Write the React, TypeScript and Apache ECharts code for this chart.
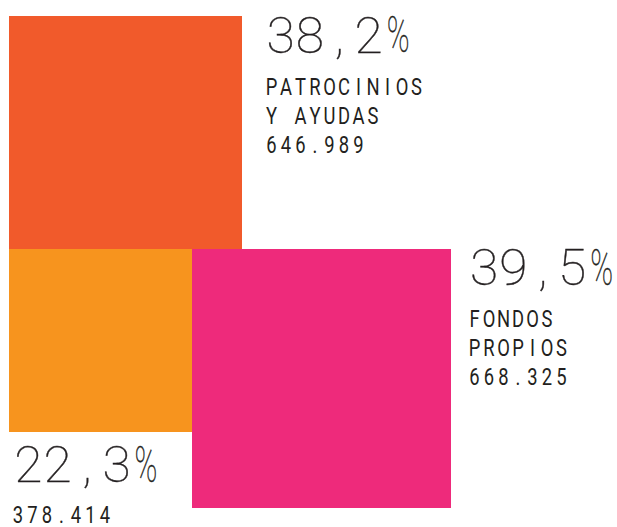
import { useEffect, useRef } from "react";
import * as echarts from "echarts";

// ---- data ----
const categoryLines: string[][] = [["PATROCINIOS", "Y AYUDAS"], ["FONDOS", "PROPIOS"], []];
const values: number[] = [646989, 668325, 378414];
const colors: string[] = ["#F15A2B", "#EE2A7B", "#F7941E"];

const total = values.reduce((a, b) => a + b, 0);
const fmtPct = (v: number) => ((v / total) * 100).toFixed(1).replace(".", ",") + "%";
const fmtNum = (v: number) => String(v).replace(/\B(?=(\d{3})+(?!\d))/g, ".");

// ---- layout (pixels) ----
const LAYOUT = [
  { x: 9, y: 16, size: 233, bigX: 280.5, bigY: 35.5, smallX: 271.5, lineY0: 87 },
  { x: 192, y: 249, size: 259, bigX: 484, bigY: 268.3, smallX: 474.5, lineY0: 319 },
  { x: 9, y: 249, size: 183, bigX: 28.3, bigY: 465.3, smallX: 18, lineY0: 515 },
];
const BIG_ADV = 29.4;
const SMALL_ADV = 14.5;
const LINE_DY = 29;
const TEXT_COLOR = "#231F20";

function charRow(str: string, x0: number, cy: number, adv: number, big: boolean) {
  const out: any[] = [];
  str.split("").forEach((ch, i) => {
    if (ch === " ") return;
    let sx = big ? 1.04 : 0.8;
    if (ch === "%") sx = big ? 0.62 : 0.55;
    out.push({
      type: "text",
      x: x0 + i * adv,
      y: cy,
      scaleX: sx,
      style: {
        text: ch,
        fontFamily: "Roboto",
        fontSize: big ? 49.5 : 23,
        fontWeight: big ? 100 : 400,
        fill: TEXT_COLOR,
        stroke: big ? TEXT_COLOR : undefined,
        lineWidth: big ? 0.4 : 0,
        align: "center",
        verticalAlign: "middle",
      },
    });
  });
  return out;
}

export default function App() {
  const ref = useRef<HTMLDivElement>(null);
  useEffect(() => {
    if (!ref.current) return;
    const chart = echarts.init(ref.current, null, { renderer: "svg" });
    chart.setOption({
      animation: false,
      backgroundColor: "#ffffff",
      series: [
        {
          type: "custom",
          coordinateSystem: "none",
          data: values.map((v, i) => ({ value: v, name: categoryLines[i].join(" ") })),
          renderItem: (params: any, api: any) => {
            const i = params.dataIndex;
            const L = LAYOUT[i];
            const v = api.value(0) as number;
            const children: any[] = [
              {
                type: "rect",
                shape: { x: L.x, y: L.y, width: L.size, height: L.size },
                style: { fill: colors[i] },
              },
            ];
            children.push(...charRow(fmtPct(v), L.bigX, L.bigY, BIG_ADV, true));
            const lines = [...categoryLines[i], fmtNum(v)];
            lines.forEach((ln, k) => {
              children.push(...charRow(ln, L.smallX, L.lineY0 + k * LINE_DY, SMALL_ADV, false));
            });
            return { type: "group", children };
          },
        },
      ],
    });
    return () => chart.dispose();
  }, []);
  return (
    <div
      ref={ref}
      style={{ position: "fixed", left: 0, top: 0, width: 617, height: 527 }}
    />
  );
}
